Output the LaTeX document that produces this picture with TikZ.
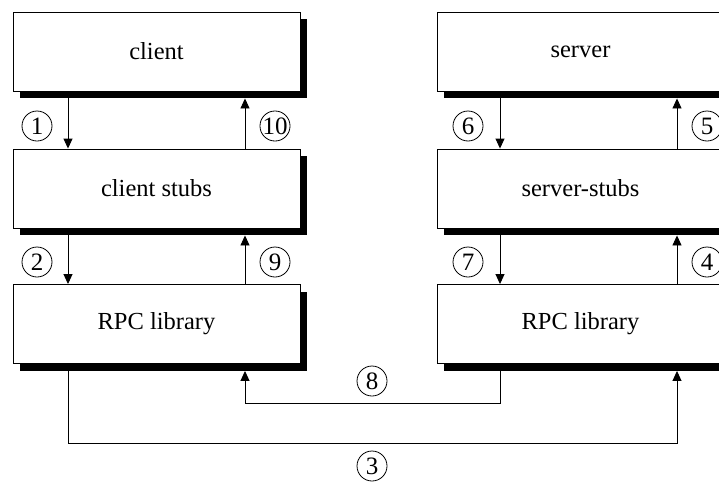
\documentclass[tikz,border=0pt]{standalone}
\usepackage{fontspec}
\setmainfont{Liberation Serif}
\usetikzlibrary{shadows,arrows.meta}
\tikzset{
  box/.style={draw, line width=0.9pt, fill=white, minimum width=287pt, minimum height=79pt, inner sep=0pt,
    font=\fontsize{24.5}{28}\selectfont,
    drop shadow={shadow xshift=7pt, shadow yshift=-7pt, fill=black, opacity=1}},
  num/.style={draw, circle, line width=0.8pt, minimum size=30pt, inner sep=0pt, font=\fontsize{25}{28}\selectfont},
  arr/.style={line width=0.9pt, -{Triangle[length=10pt,width=9pt]}},
  ln/.style={line width=0.9pt}
}
\begin{document}
\begin{tikzpicture}[x=1pt,y=-1pt]
\useasboundingbox (0,0) rectangle (719,482);
\node[box] (client) at (156.5,51.5) {client};
\node[box] (cstub) at (156.5,188.5) {client stubs};
\node[box] (crpc) at (156.5,324) {RPC library};
\node[box] (server) at (580.5,51.5) {server};
\node[box] (sstub) at (580.5,188.5) {server-stubs};
\node[box] (srpc) at (580.5,324) {RPC library};
% x positions of connectors
\coordinate (xa) at (68,0);
\coordinate (xb) at (245,0);
\coordinate (xc) at (500,0);
\coordinate (xd) at (677,0);
\coordinate (y8) at (0,403);
\coordinate (y3) at (0,443);
% client side
\draw[arr] (client.south -| xa) -- (cstub.north -| xa);
\draw[arr] (cstub.north -| xb) -- ([yshift=-7pt]client.south -| xb);
\draw[arr] (cstub.south -| xa) -- (crpc.north -| xa);
\draw[arr] (crpc.north -| xb) -- ([yshift=-7pt]cstub.south -| xb);
% server side
\draw[arr] (server.south -| xc) -- (sstub.north -| xc);
\draw[arr] (sstub.north -| xd) -- ([yshift=-7pt]server.south -| xd);
\draw[arr] (sstub.south -| xc) -- (srpc.north -| xc);
\draw[arr] (srpc.north -| xd) -- ([yshift=-7pt]sstub.south -| xd);
% network
\coordinate (c3a) at (xa |- y3);
\coordinate (c3b) at (xd |- y3);
\coordinate (c8a) at (xc |- y8);
\coordinate (c8b) at (xb |- y8);
\draw[arr] (crpc.south -| xa) -- (c3a) -- (c3b) -- ([yshift=-7pt]srpc.south -| xd);
\draw[arr] (srpc.south -| xc) -- (c8a) -- (c8b) -- ([yshift=-7pt]crpc.south -| xb);
% labels
\node[num] (n1) at (37,126) {1};
\node[num] (n10) at (275,126) {10};
\node[num] (n2) at (37,262) {2};
\node[num] (n9) at (275,262) {9};
\node[num] (n6) at (468,126) {6};
\node[num] (n5) at (707,126) {5};
\node[num] (n7) at (468,262) {7};
\node[num] (n4) at (707,262) {4};
\node[num] (n8) at (372,381) {8};
\node[num] (n3) at (372,466) {3};
\end{tikzpicture}
\end{document}
